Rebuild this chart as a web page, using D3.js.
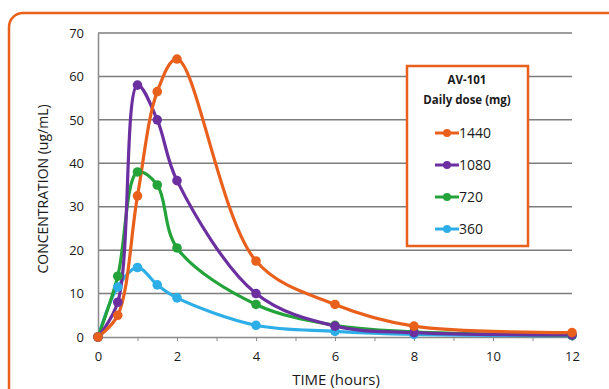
<!DOCTYPE html>
<html>
<head>
<meta charset="utf-8">
<script src="https://cdn.jsdelivr.net/npm/d3@7"></script>
<style>
  html, body { margin: 0; padding: 0; background: #fff; }
  svg { display: block; font-family: "Open Sans", Lato, sans-serif; }
</style>
</head>
<body>
<div id="chart"></div>
<script>
// sampling times (hours)
const times = [0, 0.5, 1, 1.5, 2, 4, 6, 8, 12];

// concentration (ug/mL) per daily dose
const doses = ["1440", "1080", "720", "360"];
const conc1440 = [0, 5, 32.5, 56.5, 64, 17.5, 7.5, 2.5, 1];
const conc1080 = [0, 8, 58, 50, 36, 10, 2.5, 1, 0.5];
const conc720 = [0, 14, 38, 35, 20.5, 7.5, 2.7, 1.2, 0.4];
const conc360 = [0, 11.5, 16, 12, 9, 2.7, 1.3, 0.6, 0.3];
const seriesColors = ["#e8601c", "#6b2fa0", "#23a339", "#2eaee6"];

const xTicks = [0, 2, 4, 6, 8, 10, 12];
const yTicks = [0, 10, 20, 30, 40, 50, 60, 70];

const series = [conc1440, conc1080, conc720, conc360].map((vals, i) => ({
  name: doses[i],
  color: seriesColors[i],
  points: times.map((t, j) => ({ t: t, c: vals[j] }))
}));

const width = 609, height = 389;
const margin = { top: 33, right: 37, bottom: 52, left: 98 };

const svg = d3.select("#chart").append("svg")
  .attr("width", width)
  .attr("height", height);

// outer rounded frame
svg.append("rect")
  .attr("x", 9).attr("y", 13)
  .attr("width", 640).attr("height", 420)
  .attr("rx", 14)
  .attr("fill", "#fff")
  .attr("stroke", "#e8601c")
  .attr("stroke-width", 2.5);

const x = d3.scaleLinear().domain([0, 12]).range([margin.left, width - margin.right]);
const y = d3.scaleLinear().domain([0, 70]).range([height - margin.bottom, margin.top]);

// horizontal gridlines
svg.append("g")
  .selectAll("line")
  .data(yTicks.filter(d => d > 0))
  .join("line")
  .attr("x1", x(0)).attr("x2", x(12))
  .attr("y1", d => y(d)).attr("y2", d => y(d))
  .attr("stroke", "#7d7d7d")
  .attr("stroke-width", 1.5);

// y axis
const yAxis = svg.append("g")
  .attr("transform", `translate(${x(0)},0)`)
  .call(d3.axisLeft(y).tickValues(yTicks).tickSize(0).tickPadding(14));
yAxis.select(".domain").attr("stroke", "#8a8a8a").attr("stroke-width", 1.5);
yAxis.selectAll("text")
  .attr("font-size", 13).attr("fill", "#1a1a1a")
  .attr("font-family", "'Open Sans', sans-serif");

// x axis
const xAxis = svg.append("g")
  .attr("transform", `translate(0,${y(0)})`)
  .call(d3.axisBottom(x).tickValues(d3.range(0, 13)).tickSize(4).tickPadding(11)
    .tickFormat(d => xTicks.includes(d) ? d : ""));
xAxis.select(".domain").attr("stroke", "#8a8a8a").attr("stroke-width", 1.5);
xAxis.selectAll(".tick line").attr("stroke", "#8a8a8a");
xAxis.selectAll("text")
  .attr("font-size", 13).attr("fill", "#1a1a1a")
  .attr("font-family", "'Open Sans', sans-serif");

// axis titles
svg.append("text")
  .attr("transform", `translate(48,${(y(0) + y(70)) / 2 + 4}) rotate(-90)`)
  .attr("text-anchor", "middle")
  .attr("font-size", 14)
  .attr("fill", "#1a1a1a")
  .text("CONCENTRATION (ug/mL)");

svg.append("text")
  .attr("x", x(6) + 1)
  .attr("y", 385)
  .attr("text-anchor", "middle")
  .attr("font-size", 15)
  .attr("fill", "#1a1a1a")
  .text("TIME (hours)");

// legend box (drawn before lines so lines stay on top)
const legend = svg.append("g").attr("transform", "translate(407,66)");
legend.append("rect")
  .attr("width", 121).attr("height", 180)
  .attr("fill", "#fff")
  .attr("stroke", "#e8601c")
  .attr("stroke-width", 2.5);
legend.append("text")
  .attr("x", 60).attr("y", 18)
  .attr("text-anchor", "middle")
  .attr("font-size", 11.5).attr("font-weight", "bold").attr("fill", "#1a1a1a")
  .text("AV-101");
legend.append("text")
  .attr("x", 60).attr("y", 38)
  .attr("text-anchor", "middle")
  .attr("font-size", 11.5).attr("font-weight", "bold").attr("fill", "#1a1a1a")
  .text("Daily dose (mg)");

const entries = legend.selectAll("g.entry")
  .data(series)
  .join("g")
  .attr("class", "entry")
  .attr("transform", (d, i) => `translate(0,${67 + i * 32})`);
entries.append("line")
  .attr("x1", 28).attr("x2", 52)
  .attr("stroke", d => d.color).attr("stroke-width", 3);
entries.append("circle")
  .attr("cx", 40).attr("r", 4)
  .attr("fill", d => d.color);
entries.append("text")
  .attr("x", 52).attr("dy", "0.36em")
  .attr("font-size", 14).attr("fill", "#1a1a1a")
  .text(d => d.name);

// series lines
const line = d3.line()
  .x(d => x(d.t))
  .y(d => y(d.c))
  .curve(d3.curveCatmullRom.alpha(0.5));

const plot = svg.append("g");
// reverse so orange sits on top like the reference
const drawOrder = series.slice().reverse();
plot.selectAll("path.series")
  .data(drawOrder)
  .join("path")
  .attr("class", "series")
  .attr("fill", "none")
  .attr("stroke", d => d.color)
  .attr("stroke-width", 3.2)
  .attr("d", d => line(d.points));

plot.selectAll("g.marks")
  .data(drawOrder)
  .join("g")
  .attr("class", "marks")
  .attr("fill", d => d.color)
  .selectAll("circle")
  .data(d => d.points)
  .join("circle")
  .attr("cx", d => x(d.t))
  .attr("cy", d => y(d.c))
  .attr("r", 4.8);
</script>
</body>
</html>
